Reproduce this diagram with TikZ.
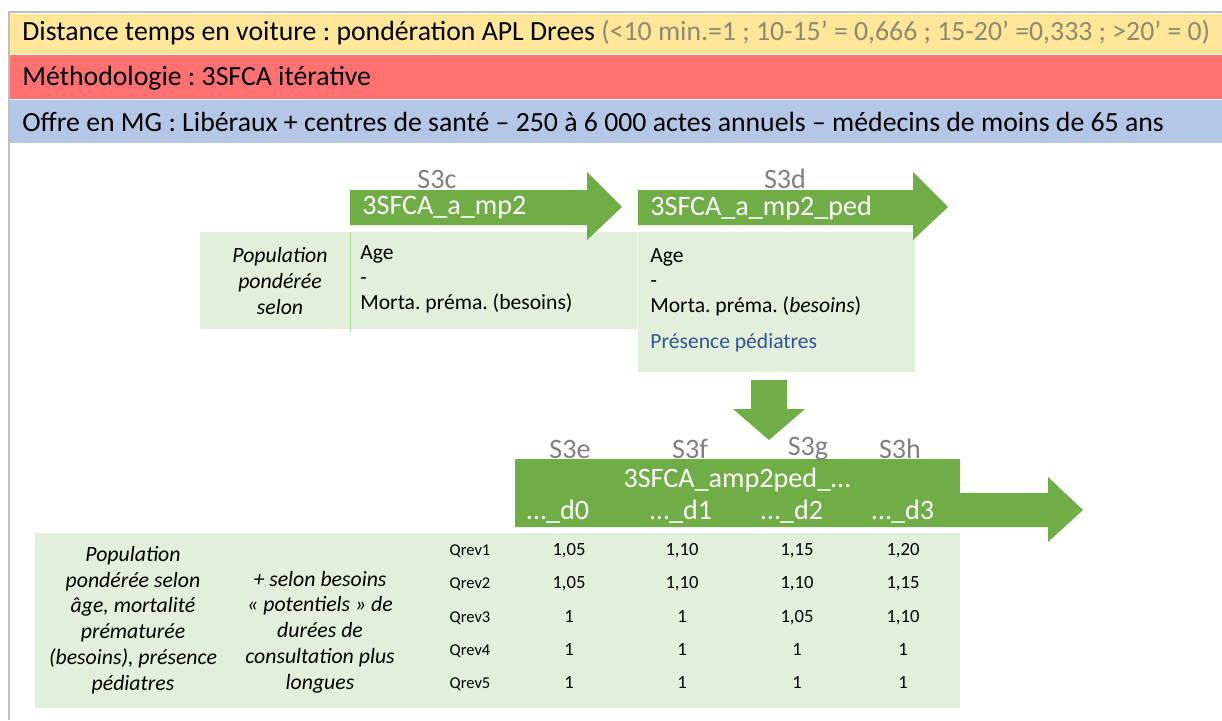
\documentclass[tikz,border=0pt]{standalone}
\usepackage{fontspec}
\setmainfont{Carlito}
\usetikzlibrary{positioning}
\definecolor{BandYellow}{HTML}{FFE699}
\definecolor{BandRed}{HTML}{FF7171}
\definecolor{BandBlue}{HTML}{B4C7E7}
\definecolor{ArrowGreen}{HTML}{70AD47}
\definecolor{PanelGreen}{HTML}{E2EFDA}
\definecolor{RuleGreen}{HTML}{A9D18E}
\definecolor{LabelGray}{HTML}{808080}
\definecolor{NoteGray}{HTML}{8C8A70}
\definecolor{TextBlue}{HTML}{2F5597}
\definecolor{FrameGray}{HTML}{BFBFBF}
\frenchspacing

\begin{document}
\begin{tikzpicture}[x=0.02cm, y=-0.02cm,
  bandtext/.style={anchor=west, inner sep=0pt, font=\fontsize{15.8}{19}\selectfont},
  steplabel/.style={inner sep=0pt, text=LabelGray, font=\fontsize{16}{19}\selectfont},
  arrowtext/.style={inner sep=0pt, text=white, font=\fontsize{16}{19}\selectfont},
  crittext/.style={anchor=west, inner sep=0pt, align=left, font=\fontsize{12.3}{14.3}\selectfont},
  poptext/.style={inner sep=0pt, align=center, font=\fontsize{12.4}{14.7}\selectfont\itshape},
  qrev/.style={inner sep=0pt, text height=1.4ex, text depth=0.25ex, font=\fontsize{9.4}{11}\selectfont},
  coef/.style={inner sep=0pt, text height=1.4ex, text depth=0.25ex, font=\fontsize{10.6}{12}\selectfont}
]
\useasboundingbox (0,0) rectangle (1222,720);

% bandeaux du haut
\fill[BandYellow] (10,14) rectangle (1222,54);
\fill[BandRed] (10,55) rectangle (1222,99);
\fill[BandBlue] (10,100) rectangle (1222,143);
\draw[FrameGray, line width=1.5pt] (9,720) -- (9,12) -- (1222,12);
\node[bandtext] (dist) at (22,33) {Distance temps en voiture : pondération APL Drees \textcolor{NoteGray}{(<10 min.=1 ; 10-15’ = 0,666 ; 15-20’ =0,333 ; >20’ = 0)}};
\node[bandtext] (meth) at (22,78) {Méthodologie : 3SFCA itérative};
\node[bandtext] (offre) at (22,122) {Offre en MG : Libéraux + centres de santé -- 250 à 6 000 actes annuels -- médecins de moins de 65 ans};

% panneaux S3c / S3d
\fill[PanelGreen] (200,232) rectangle (637,329);
\fill[PanelGreen] (638,232) rectangle (915,372);
\draw[RuleGreen] (350,232) -- (350,331);
\fill[ArrowGreen] (350,190) -- (587,190) -- (587,172) -- (622,207) -- (587,240) -- (587,225) -- (350,225) -- cycle;
\fill[ArrowGreen] (638,190) -- (913,190) -- (913,172) -- (948,207) -- (913,240) -- (913,225) -- (638,225) -- cycle;
\node[steplabel] (s3c) at (437,179) {S3c};
\node[steplabel] (s3d) at (785,179) {S3d};
\node[arrowtext, anchor=west] (mp2) at (362,208) {3SFCA\_a\_mp2};
\node[arrowtext, anchor=west] (mp2ped) at (650,208) {3SFCA\_a\_mp2\_ped};
\node[poptext] (pop1) at (280,281) {Population\\pondérée\\selon};
\node[crittext] (crit1) at (360,279) {Age\\-\\Morta. préma. (besoins)};
\node[crittext] (crit2) at (650,282) {Age\\-\\Morta. préma. (\textit{besoins})};
\node[crittext, text=TextBlue] (ped) at (650,343) {Présence pédiatres};

% fleche vers le bas
\fill[ArrowGreen] (751,380) -- (787,380) -- (787,409) -- (805,409) -- (769,440) -- (733,409) -- (751,409) -- cycle;

% S3e a S3h
\fill[ArrowGreen] (515,459) -- (960,459) -- (960,493) -- (1048,493) -- (1048,477) -- (1083,510) -- (1048,542) -- (1048,527) -- (515,527) -- cycle;
\foreach \s/\x in {e/570, f/690, g/808, h/900}
  \node[steplabel] (s3\s) at (\x,449) {S3\s};
\node[arrowtext] (amp2ped) at (737,480) {3SFCA\_amp2ped\_…};
\foreach \d/\x in {0/558, 1/681, 2/792, 3/903}
  \node[arrowtext] (d\d) at (\x,512) {…\_d\d};

% tableau des coefficients
\fill[PanelGreen] (35,533) rectangle (960,708);
\node[poptext] (pop2) at (133,620) {Population\\pondérée selon\\âge, mortalité\\prématurée\\(besoins), présence\\pédiatres};
\node[poptext] (duree) at (320,632) {+ selon besoins\\« potentiels » de\\durées de\\consultation plus\\longues};
\foreach \r/\y/\a/\b/\c/\e in {1/551/{1,05}/{1,10}/{1,15}/{1,20},
                                2/584/{1,05}/{1,10}/{1,10}/{1,15},
                                3/618/1/1/{1,05}/{1,10},
                                4/651/1/1/1/1,
                                5/684/1/1/1/1}{
  \node[qrev] (q\r) at (470,\y) {Qrev\r};
  \node[coef] (ca\r) at (569,\y) {\a};
  \node[coef] (cb\r) at (682,\y) {\b};
  \node[coef] (cc\r) at (797,\y) {\c};
  \node[coef] (cd\r) at (903,\y) {\e};
}
\end{tikzpicture}
\end{document}
